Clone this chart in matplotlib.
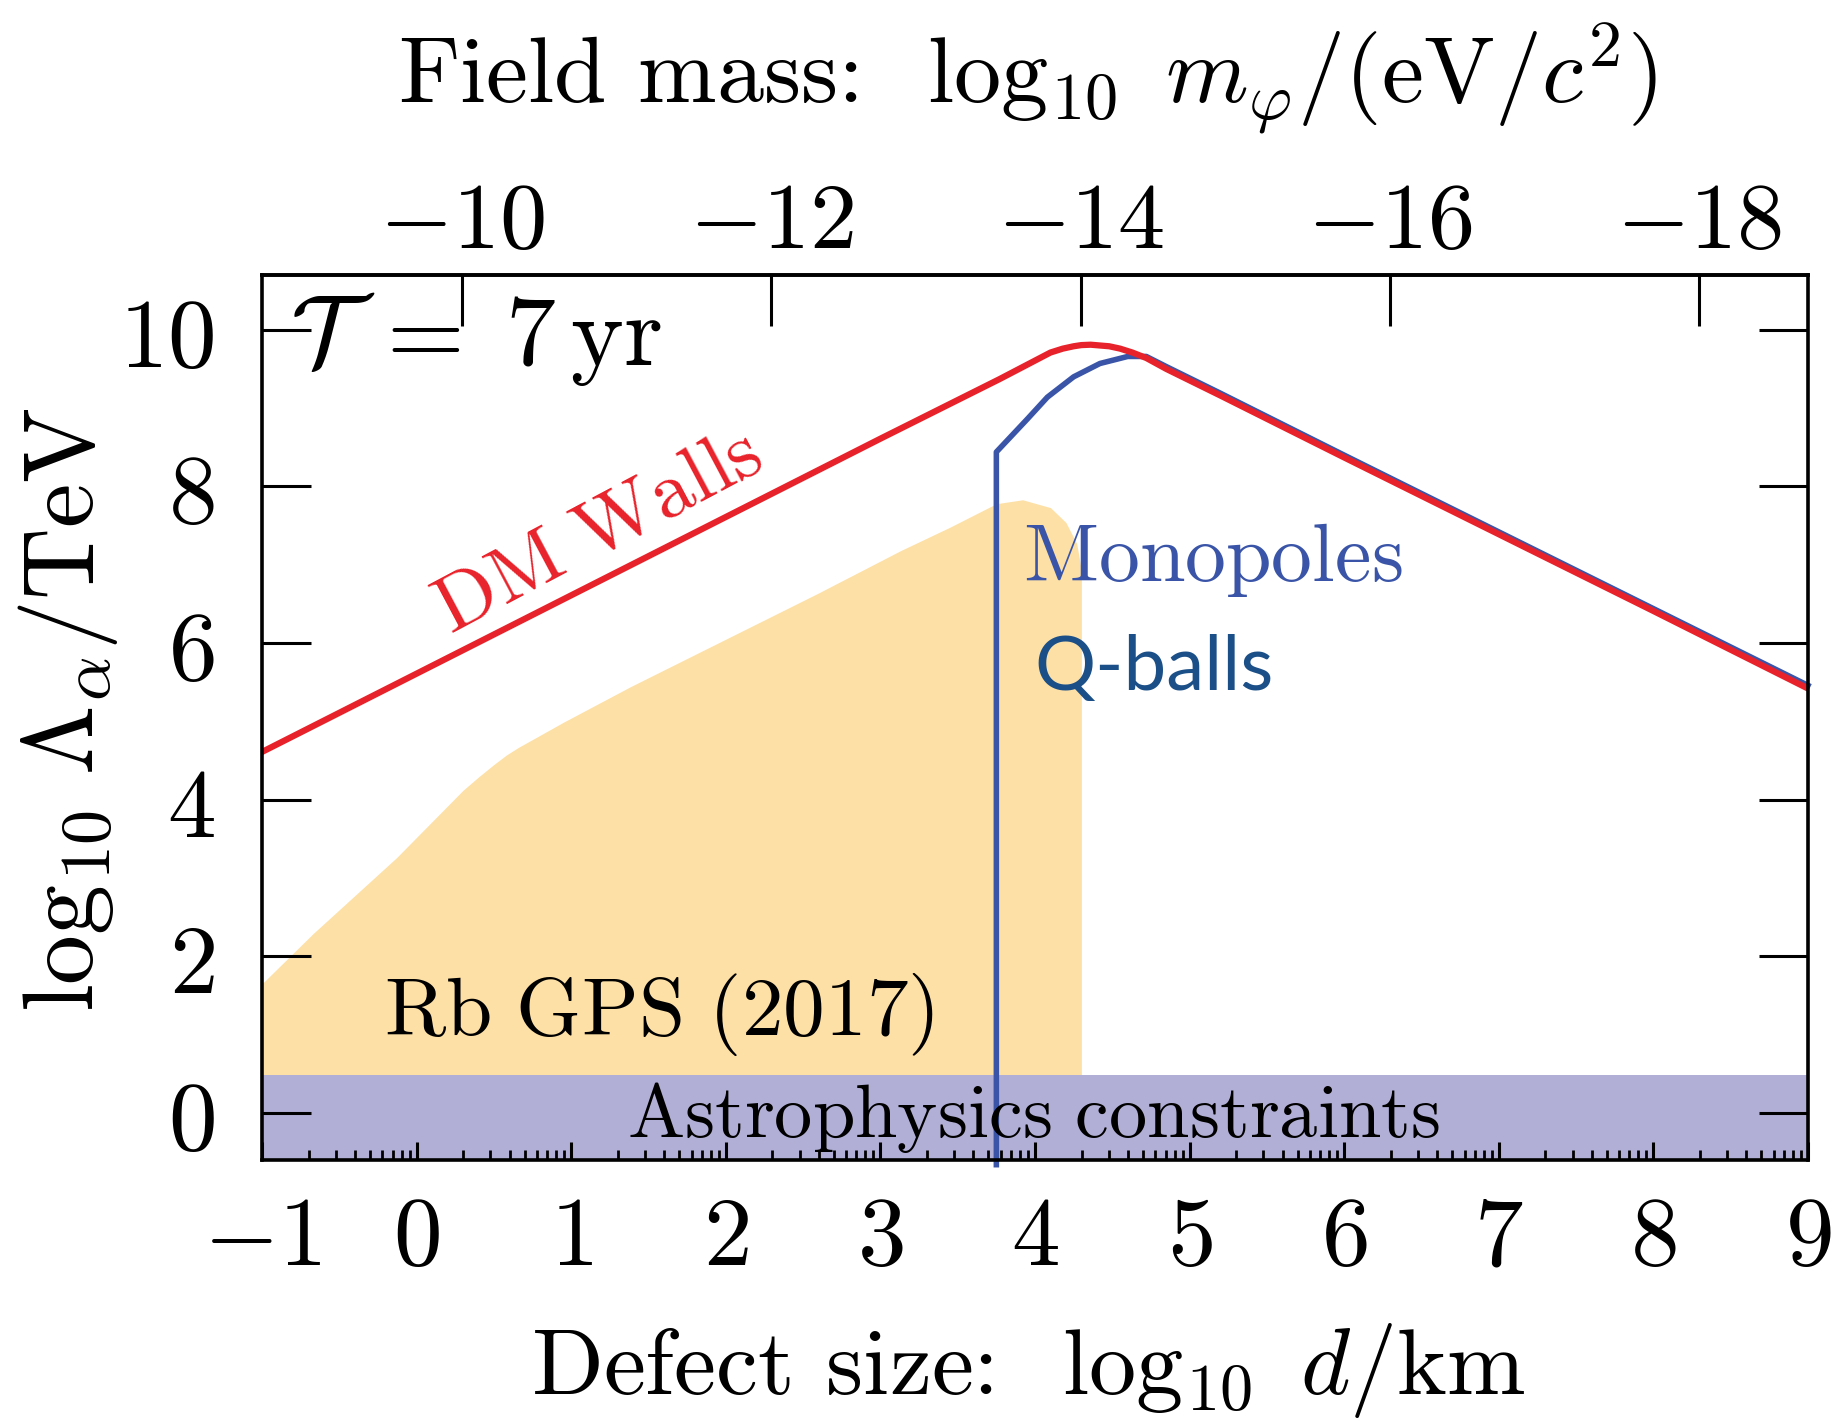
import numpy as np
import matplotlib
matplotlib.use("Agg")
import matplotlib.pyplot as plt
from matplotlib.ticker import FixedLocator

plt.rcParams["mathtext.fontset"] = "cm"
plt.rcParams["font.family"] = ["DejaVu Serif"]

# Rb GPS (2017) excluded region: upper boundary
rb_d = [-1.0, -0.67, -0.13, 0.30, 0.40, 0.50, 0.58, 0.66, 0.76, 0.95, 1.38, 2.0,
        2.6, 3.13, 3.45, 3.75, 3.92, 4.10, 4.20, 4.27, 4.30]
rb_v = [1.65, 2.29, 3.26, 4.12, 4.29, 4.45, 4.57, 4.67, 4.78, 4.99, 5.44, 6.05,
        6.64, 7.18, 7.48, 7.78, 7.83, 7.73, 7.54, 7.27, 6.93]

# DM walls sensitivity
dm_d = [-1.0, 0.0, 1.0, 2.0, 3.0, 3.77, 4.10, 4.18, 4.25, 4.30, 4.36, 4.42, 4.48,
        4.55, 4.63, 4.72, 4.85, 5.2, 6.0, 7.0, 8.0, 9.0]
dm_v = [4.61, 5.61, 6.61, 7.61, 8.61, 9.37, 9.71, 9.76, 9.79, 9.805, 9.81, 9.80,
        9.79, 9.76, 9.71, 9.64, 9.50, 9.16, 8.37, 7.39, 6.41, 5.42]

# Monopoles / Q-balls sensitivity
mono_d = [3.75, 3.75, 3.95, 4.08, 4.25, 4.42, 4.60, 4.72, 4.85, 5.2, 6.0, 7.0, 8.0, 9.0]
mono_v = [-0.66, 8.44, 8.86, 9.14, 9.40, 9.57, 9.66, 9.66, 9.53, 9.19, 8.40, 7.42, 6.44, 5.46]

# Astrophysics constraints band (upper edge)
astro_top = 0.48

x_ticks = [-1, 0, 1, 2, 3, 4, 5, 6, 7, 8, 9]
y_ticks = [0, 2, 4, 6, 8, 10]
mass_ticks = [-10, -12, -14, -16, -18]

# log10(hbar c / (eV km))
LOG_HBARC = -9.705

RED = "#e8222a"
BLUE = "#3a55a8"
QBLUE = "#1b4f87"
ORANGE = "#fde0a6"
PURPLE = "#b2afd6"

W, H = 1832, 1425
fig = plt.figure(figsize=(W / 100, H / 100), dpi=100)
L, R, T, B = 262, 1808, 275, 1160
ax = fig.add_axes([L / W, 1 - B / H, (R - L) / W, (B - T) / H])
ax.set_axisbelow(False)

ymin, ymax = -0.6, 10.7
ax.set_xlim(-1, 9)
ax.set_ylim(ymin, ymax)

ax.fill_between(rb_d, ymin, rb_v, color=ORANGE, lw=0, zorder=1)
ax.axhspan(ymin, astro_top, color=PURPLE, lw=0, zorder=1.2)
ax.plot(mono_d, mono_v, color=BLUE, lw=4.0, zorder=4, clip_on=False,
        solid_joinstyle="round")
ax.plot(dm_d, dm_v, color=RED, lw=4.5, zorder=5, solid_joinstyle="round")

# annotations
ax.text(-0.82, 9.55, r"$\mathcal{T}\;=\;7\,\mathrm{yr}$", fontsize=72,
        ha="left", va="baseline", zorder=6)
ax.text(1.17, 7.42, r"$\mathrm{DM\ Walls}$", fontsize=58, color=RED,
        rotation=28, rotation_mode="anchor", ha="center", va="center", zorder=6)
ax.text(5.15, 6.79, r"$\mathrm{Monopoles}$", fontsize=59, color=BLUE,
        ha="center", va="baseline", zorder=6)
ax.text(4.77, 5.40, "Q-balls", fontsize=55, color=QBLUE, family="Lato",
        ha="center", va="baseline", zorder=6)
ax.text(1.57, 1.0, r"$\mathrm{Rb\ GPS\ (2017)}$", fontsize=60,
        ha="center", va="baseline", zorder=6)
ax.text(3.99, -0.30, r"$\mathrm{Astrophysics\ constraints}$", fontsize=55,
        ha="center", va="baseline", zorder=6)

# bottom axis ticks: integer majors with logarithmic minor marks
ax.set_xticks(x_ticks)
ax.set_xticklabels([f"${v}$" for v in x_ticks])
minor = [n + np.log10(k) for n in range(-1, 9) for k in range(2, 10)]
ax.xaxis.set_minor_locator(FixedLocator(minor))
ax.tick_params(axis="x", which="major", direction="in", length=13, width=2.2,
               labelsize=70, pad=22, top=False, bottom=True)
ax.tick_params(axis="x", which="minor", direction="in", length=7, width=2.0,
               top=False, bottom=True)

ax.set_yticks(y_ticks)
ax.set_yticklabels([f"${v}$" for v in y_ticks])
ax.tick_params(axis="y", which="major", direction="in", length=35, width=2.2,
               labelsize=70, pad=34, left=True, right=True)

for s in ax.spines.values():
    s.set_linewidth(2.6)
    s.set_zorder(7)

# top axis: field mass
sec = ax.secondary_xaxis("top", functions=(lambda d: LOG_HBARC - d,
                                           lambda m: LOG_HBARC - m))
sec.set_xticks(mass_ticks)
sec.set_xticklabels([f"${v}$" for v in mass_ticks])
sec.tick_params(axis="x", which="major", direction="in", length=37, width=2.2,
                labelsize=68, pad=6)
sec.tick_params(axis="x", which="minor", length=0)
sec.spines["top"].set_linewidth(2.6)

fig.text(0.561, 0.022, r"Defect size:  $\log_{10}\ d/\mathrm{km}$",
         family="cmr10", fontsize=68, ha="center", va="baseline")
fig.text(0.561, 0.928, r"Field mass:  $\log_{10}\ m_{\varphi}/(\mathrm{eV}/c^2)$",
         family="cmr10", fontsize=68, ha="center", va="baseline")
fig.text(0.051, 0.502, r"$\log_{10}\,\Lambda_{\alpha}/\mathrm{TeV}$",
         fontsize=72, ha="center", va="baseline", rotation=90,
         rotation_mode="anchor")

fig.savefig("out.png", dpi=100)
